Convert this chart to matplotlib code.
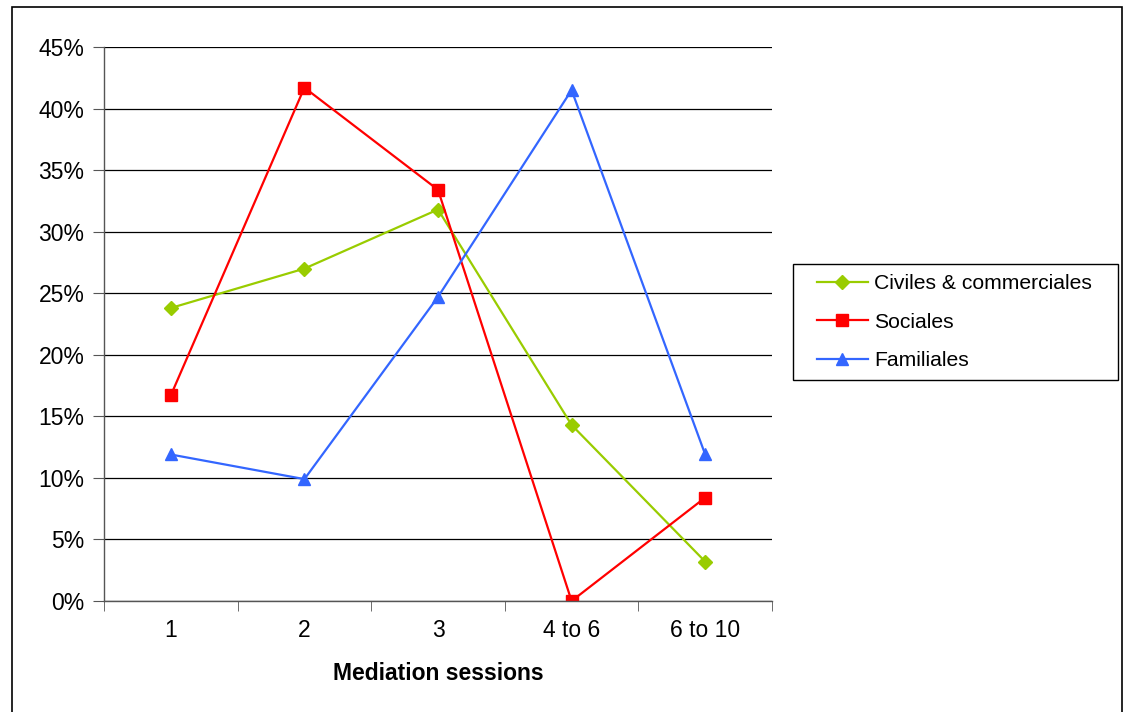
import matplotlib
matplotlib.use("Agg")
from matplotlib import pyplot as plt
from matplotlib.patches import Rectangle
import numpy as np

# values (fractions)
sessions = ["1", "2", "3", "4 to 6", "6 to 10"]
civiles = [0.238, 0.270, 0.318, 0.143, 0.032]
sociales = [0.167, 0.417, 0.334, 0.0, 0.084]
familiales = [0.119, 0.099, 0.247, 0.415, 0.119]

plt.rcParams['font.family'] = ['Liberation Sans', 'DejaVu Sans']

fig = plt.figure(figsize=(11.24, 7.12), dpi=100)
W, H = 1124, 712
ax = fig.add_axes([104 / W, 1 - 601 / H, (772 - 104) / W, (601 - 47) / H])

# outer chart border
fig.patches.append(Rectangle((12 / W, -0.05), (1122 - 12) / W, 1 - 7 / H + 0.05,
                             transform=fig.transFigure, fill=False,
                             edgecolor='black', linewidth=1.2))
# legend box
fig.patches.append(Rectangle((793 / W, 1 - 380 / H), (1118 - 793) / W, 116 / H,
                             transform=fig.transFigure, fill=False,
                             edgecolor='black', linewidth=1.0))

x = np.arange(len(sessions))
ax.plot(x, civiles, color='#99CC00', marker='D', markersize=7, linewidth=1.6,
        label='Civiles & commerciales')
ax.plot(x, sociales, color='#FF0000', marker='s', markersize=8.5, linewidth=1.6,
        label='Sociales')
ax.plot(x, familiales, color='#3366FF', marker='^', markersize=9, linewidth=1.6,
        label='Familiales')

ax.set_xlim(-0.5, len(sessions) - 0.5)
ax.set_ylim(0, 0.45)
yt = np.arange(0, 0.451, 0.05)
ax.set_yticks(yt)
ax.set_yticklabels(["%d%%" % round(v * 100) for v in yt])
ax.set_xticks(x)
ax.set_xticklabels(sessions)
ax.set_xticks(np.arange(-0.5, len(sessions)), minor=True)
ax.tick_params(axis='x', which='major', length=0, pad=13, labelsize=16.5)
ax.tick_params(axis='x', which='minor', length=7, direction='out', color='#555555')
ax.tick_params(axis='y', length=8, direction='out', labelsize=16.5, pad=6, color='#555555')

ax.grid(axis='y', color='black', linewidth=0.9)
ax.set_axisbelow(True)
for s in ['top', 'right']:
    ax.spines[s].set_visible(False)
for s in ['left', 'bottom']:
    ax.spines[s].set_color('#555555')
    ax.spines[s].set_linewidth(1.0)

ax.set_xlabel("Mediation sessions", fontsize=16.5, fontweight='bold', labelpad=14)

leg = fig.legend(loc='center left', bbox_to_anchor=(817 / W, 1 - 322 / H),
                 fontsize=15.2, frameon=False, borderpad=0,
                 handlelength=2.4, handletextpad=0.3, labelspacing=0.92,
                 borderaxespad=0)

fig.savefig("out.png", dpi=100)
